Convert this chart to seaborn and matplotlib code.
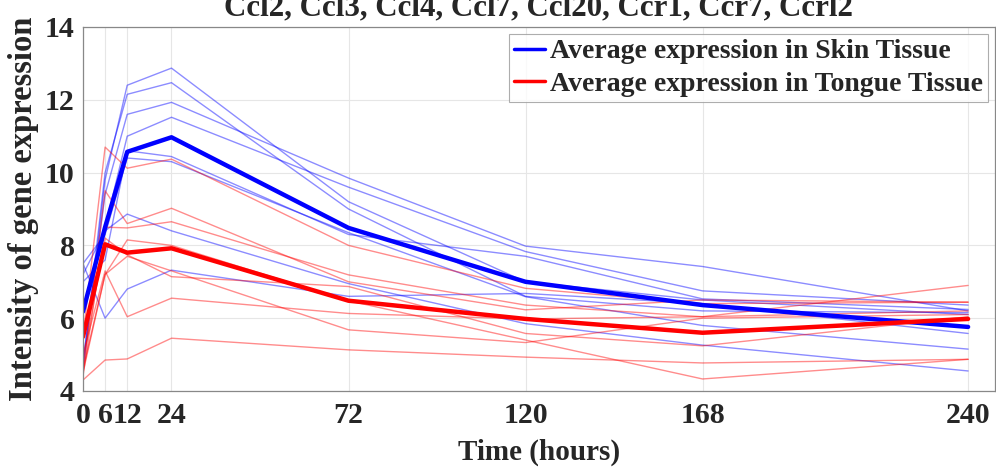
#!/usr/bin/env python3

# Chemokine expression over time, skin vs tongue.

import matplotlib
matplotlib.use("Agg")
import matplotlib.pyplot as plt
import pandas
import seaborn as sns

sns.set_theme(style="whitegrid")
plt.rcParams["font.family"] = ["Liberation Serif", "DejaVu Serif"]
plt.rcParams["font.weight"] = "bold"

hours = [0, 6, 12, 24, 72, 120, 168, 240]
genes = ["Ccl2", "Ccl3", "Ccl4", "Ccl7", "Ccl20", "Ccr1", "Ccr7", "Ccrl2"]

# individual genes, skin tissue
skin_ccl2 = [4.5, 9.8, 12.4, 12.87, 9.2, 7.0, 6.5, 6.1]
skin_ccl3 = [4.7, 10.0, 12.15, 12.47, 9.0, 6.6, 6.2, 6.15]
skin_ccl4 = [4.8, 9.4, 11.6, 11.93, 9.85, 7.98, 7.42, 6.2]
skin_ccl7 = [6.2, 8.5, 11.0, 11.52, 9.6, 7.83, 6.75, 6.36]
skin_ccl20 = [7.0, 7.6, 10.6, 10.44, 8.3, 7.7, 6.53, 6.24]
skin_ccr1 = [7.2, 8.4, 8.86, 8.4, 6.95, 5.85, 5.26, 4.55]
skin_ccr7 = [7.5, 6.0, 6.8, 7.32, 6.6, 6.68, 6.4, 5.58]
skin_ccrl2 = [7.5, 8.3, 10.4, 10.3, 8.35, 6.59, 5.8, 5.15]

# individual genes, tongue tissue
tongue_ccl2 = [5.5, 10.7, 10.12, 10.37, 8.0, 6.82, 6.4, 6.44]
tongue_ccl3 = [4.5, 9.5, 8.6, 9.02, 7.0, 6.23, 6.5, 6.44]
tongue_ccl4 = [4.4, 8.5, 8.48, 8.65, 7.19, 6.36, 6.04, 6.9]
tongue_ccl7 = [4.8, 8.2, 7.74, 7.14, 6.87, 5.58, 5.24, 6.04]
tongue_ccl20 = [5.0, 7.3, 6.04, 6.55, 6.13, 5.98, 6.04, 6.2]
tongue_ccr1 = [4.3, 4.85, 4.88, 5.45, 5.13, 4.93, 4.77, 4.87]
tongue_ccr7 = [4.6, 7.2, 8.15, 8.0, 6.48, 5.4, 4.33, 4.87]
tongue_ccrl2 = [4.5, 7.2, 7.7, 7.3, 5.68, 5.33, 6.0, 6.1]

# averages as drawn
skin_avg = [6.18, 8.5, 10.57, 10.97, 8.48, 7.0, 6.36, 5.76]
tongue_avg = [5.49, 8.03, 7.8, 7.92, 6.48, 5.98, 5.6, 5.98]

skin_lines = [skin_ccl2, skin_ccl3, skin_ccl4, skin_ccl7,
              skin_ccl20, skin_ccr1, skin_ccr7, skin_ccrl2]
tongue_lines = [tongue_ccl2, tongue_ccl3, tongue_ccl4, tongue_ccl7,
                tongue_ccl20, tongue_ccr1, tongue_ccr7, tongue_ccrl2]

rows = []
for tissue, lines in [("skin", skin_lines), ("tongue", tongue_lines)]:
    for gene, vals in zip(genes, lines):
        for h, v in zip(hours, vals):
            rows.append([tissue, gene, h, v])
thin = pandas.DataFrame(rows, columns=["tissue", "gene", "hour", "value"])

avg_rows = []
for label, vals in [("Average expression in Skin Tissue", skin_avg),
                    ("Average expression in Tongue Tissue", tongue_avg)]:
    for h, v in zip(hours, vals):
        avg_rows.append([label, h, v])
avg = pandas.DataFrame(avg_rows, columns=["label", "hour", "value"])

fig = plt.figure(figsize=(9.96, 4.76), dpi=100)
ax = fig.add_axes([0.0833, 0.1786, 0.9157, 0.7647])

sns.lineplot(
    data=thin, x="hour", y="value", hue="tissue", units="gene",
    estimator=None, palette={"skin": "#0000ff", "tongue": "#ff0000"},
    alpha=0.45, linewidth=1.0, legend=False, ax=ax,
)
sns.lineplot(
    data=avg, x="hour", y="value", hue="label", estimator=None,
    palette=["#0000ff", "#ff0000"], linewidth=3.2, ax=ax,
)

ax.set_xlim(0, 247.3)
ax.set_ylim(4, 14)
ax.set_xticks(hours)
ax.set_yticks([4, 6, 8, 10, 12, 14])
ax.tick_params(axis="both", labelsize=21.5, direction="in", length=5,
               color="#888888")
ax.tick_params(axis="y", pad=6)
ax.tick_params(axis="x", pad=8)
for lab in ax.get_xticklabels() + ax.get_yticklabels():
    lab.set_fontweight("bold")
ax.grid(True, color="#e6e6e6", linewidth=0.8)
for s in ax.spines.values():
    s.set_color("#888888")
    s.set_linewidth(0.9)

ax.set_xlabel("Time (hours)", fontsize=21, fontweight="bold", labelpad=7)
ax.set_ylabel("Intensity of gene expression", fontsize=23.5,
              fontweight="bold", labelpad=4)
ax.set_title(", ".join(genes), fontsize=22.3, fontweight="bold", pad=8.5)

leg = ax.legend(loc="upper right", fontsize=20, frameon=True, fancybox=False,
                handlelength=1.1, handletextpad=0.2, borderpad=0.18,
                labelspacing=0.25, borderaxespad=0.25)
leg.get_frame().set_edgecolor("#999999")
leg.get_frame().set_linewidth(0.8)
for t in leg.get_texts():
    t.set_fontweight("bold")
for l in leg.get_lines():
    l.set_linewidth(2.5)

plt.savefig("out.png", dpi=100)
